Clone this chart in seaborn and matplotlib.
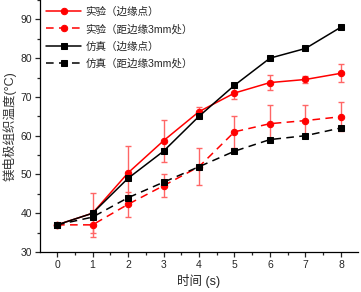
import numpy as np
import pandas as pd
import matplotlib
matplotlib.use("Agg")
import matplotlib.pyplot as plt
from matplotlib.ticker import MultipleLocator
import seaborn as sns

# data
t = [0, 1, 2, 3, 4, 5, 6, 7, 8]
exp_edge = [37, 40, 50.4, 58.7, 66.2, 71, 73.7, 74.5, 76.1]
exp_edge_err = [0, 5.1, 7.0, 5.4, 1.2, 1.5, 2.0, 0.8, 2.3]
exp_3mm = [37, 37, 42.3, 47.1, 52, 61, 63.1, 63.9, 64.9]
exp_3mm_err = [0, 3.2, 3.3, 3.0, 4.8, 4.1, 4.7, 4.1, 3.7]
sim_edge = [37, 40, 49, 56, 65, 73, 80, 82.5, 88]
sim_3mm = [37, 39, 44, 48, 52, 56, 59, 60, 62]

labels = ['实验（边缘点）', '实验（距边缘3mm处）', '仿真（边缘点）', '仿真（距边缘3mm处）']

sns.set_style("ticks")
plt.rcParams['font.family'] = ['Liberation Sans', 'Noto Sans CJK SC', 'DejaVu Sans']

fig = plt.figure(figsize=(3.61, 2.92), dpi=100)
ax = fig.add_axes([40/361, 1-252/292, 318/361, 252/292])

dash = (0, (5, 3.5))

# error bars first (light red, behind)
ax.errorbar(t, exp_edge, yerr=exp_edge_err, fmt='none', ecolor='#f66', elinewidth=1.0,
            capsize=2.5, capthick=1.0, zorder=1)
ax.errorbar(t, exp_3mm, yerr=exp_3mm_err, fmt='none', ecolor='#f66', elinewidth=1.0,
            capsize=2.5, capthick=1.0, zorder=1)

df = pd.DataFrame({'t': t, 'exp_edge': exp_edge, 'exp_3mm': exp_3mm,
                   'sim_edge': sim_edge, 'sim_3mm': sim_3mm})

sns.lineplot(data=df, x='t', y='exp_edge', ax=ax, color='red', lw=1.1, marker='o',
             markersize=4.6, markeredgecolor='red', label=labels[0], zorder=3)
sns.lineplot(data=df, x='t', y='exp_3mm', ax=ax, color='red', lw=1.1, marker='o',
             markersize=4.6, markeredgecolor='red', linestyle=dash, label=labels[1], zorder=3)
sns.lineplot(data=df, x='t', y='sim_edge', ax=ax, color='black', lw=1.1, marker='s',
             markersize=4, markeredgecolor='black', label=labels[2], zorder=4)
sns.lineplot(data=df, x='t', y='sim_3mm', ax=ax, color='black', lw=1.1, marker='s',
             markersize=4, markeredgecolor='black', linestyle=dash, label=labels[3], zorder=4)

ax.xaxis.set_major_locator(MultipleLocator(1))
ax.xaxis.set_minor_locator(MultipleLocator(0.5))
ax.yaxis.set_major_locator(MultipleLocator(10))
ax.yaxis.set_minor_locator(MultipleLocator(5))
ax.set_xlim(-0.48, 8.48)
ax.set_ylim(30, 95)
ax.tick_params(which='major', direction='out', length=3.5, width=0.9, labelsize=7.5, pad=2)
ax.tick_params(which='minor', direction='out', length=2, width=0.9)
sns.despine(ax=ax)
for s in ['left', 'bottom']:
    ax.spines[s].set_linewidth(0.9)
    ax.spines[s].set_color('black')

ax.set_xlabel('时间 (s)', fontsize=9, labelpad=3)
ax.set_ylabel('镁电极组织温度(°C)', fontsize=9, labelpad=3, color='#333333')

ax.legend(loc='upper left', bbox_to_anchor=(0.0, 1.0), frameon=False, fontsize=7.6,
          handlelength=3.3, labelspacing=0.68, handletextpad=0.4, borderaxespad=0.2)

fig.savefig('out.png', dpi=100)
